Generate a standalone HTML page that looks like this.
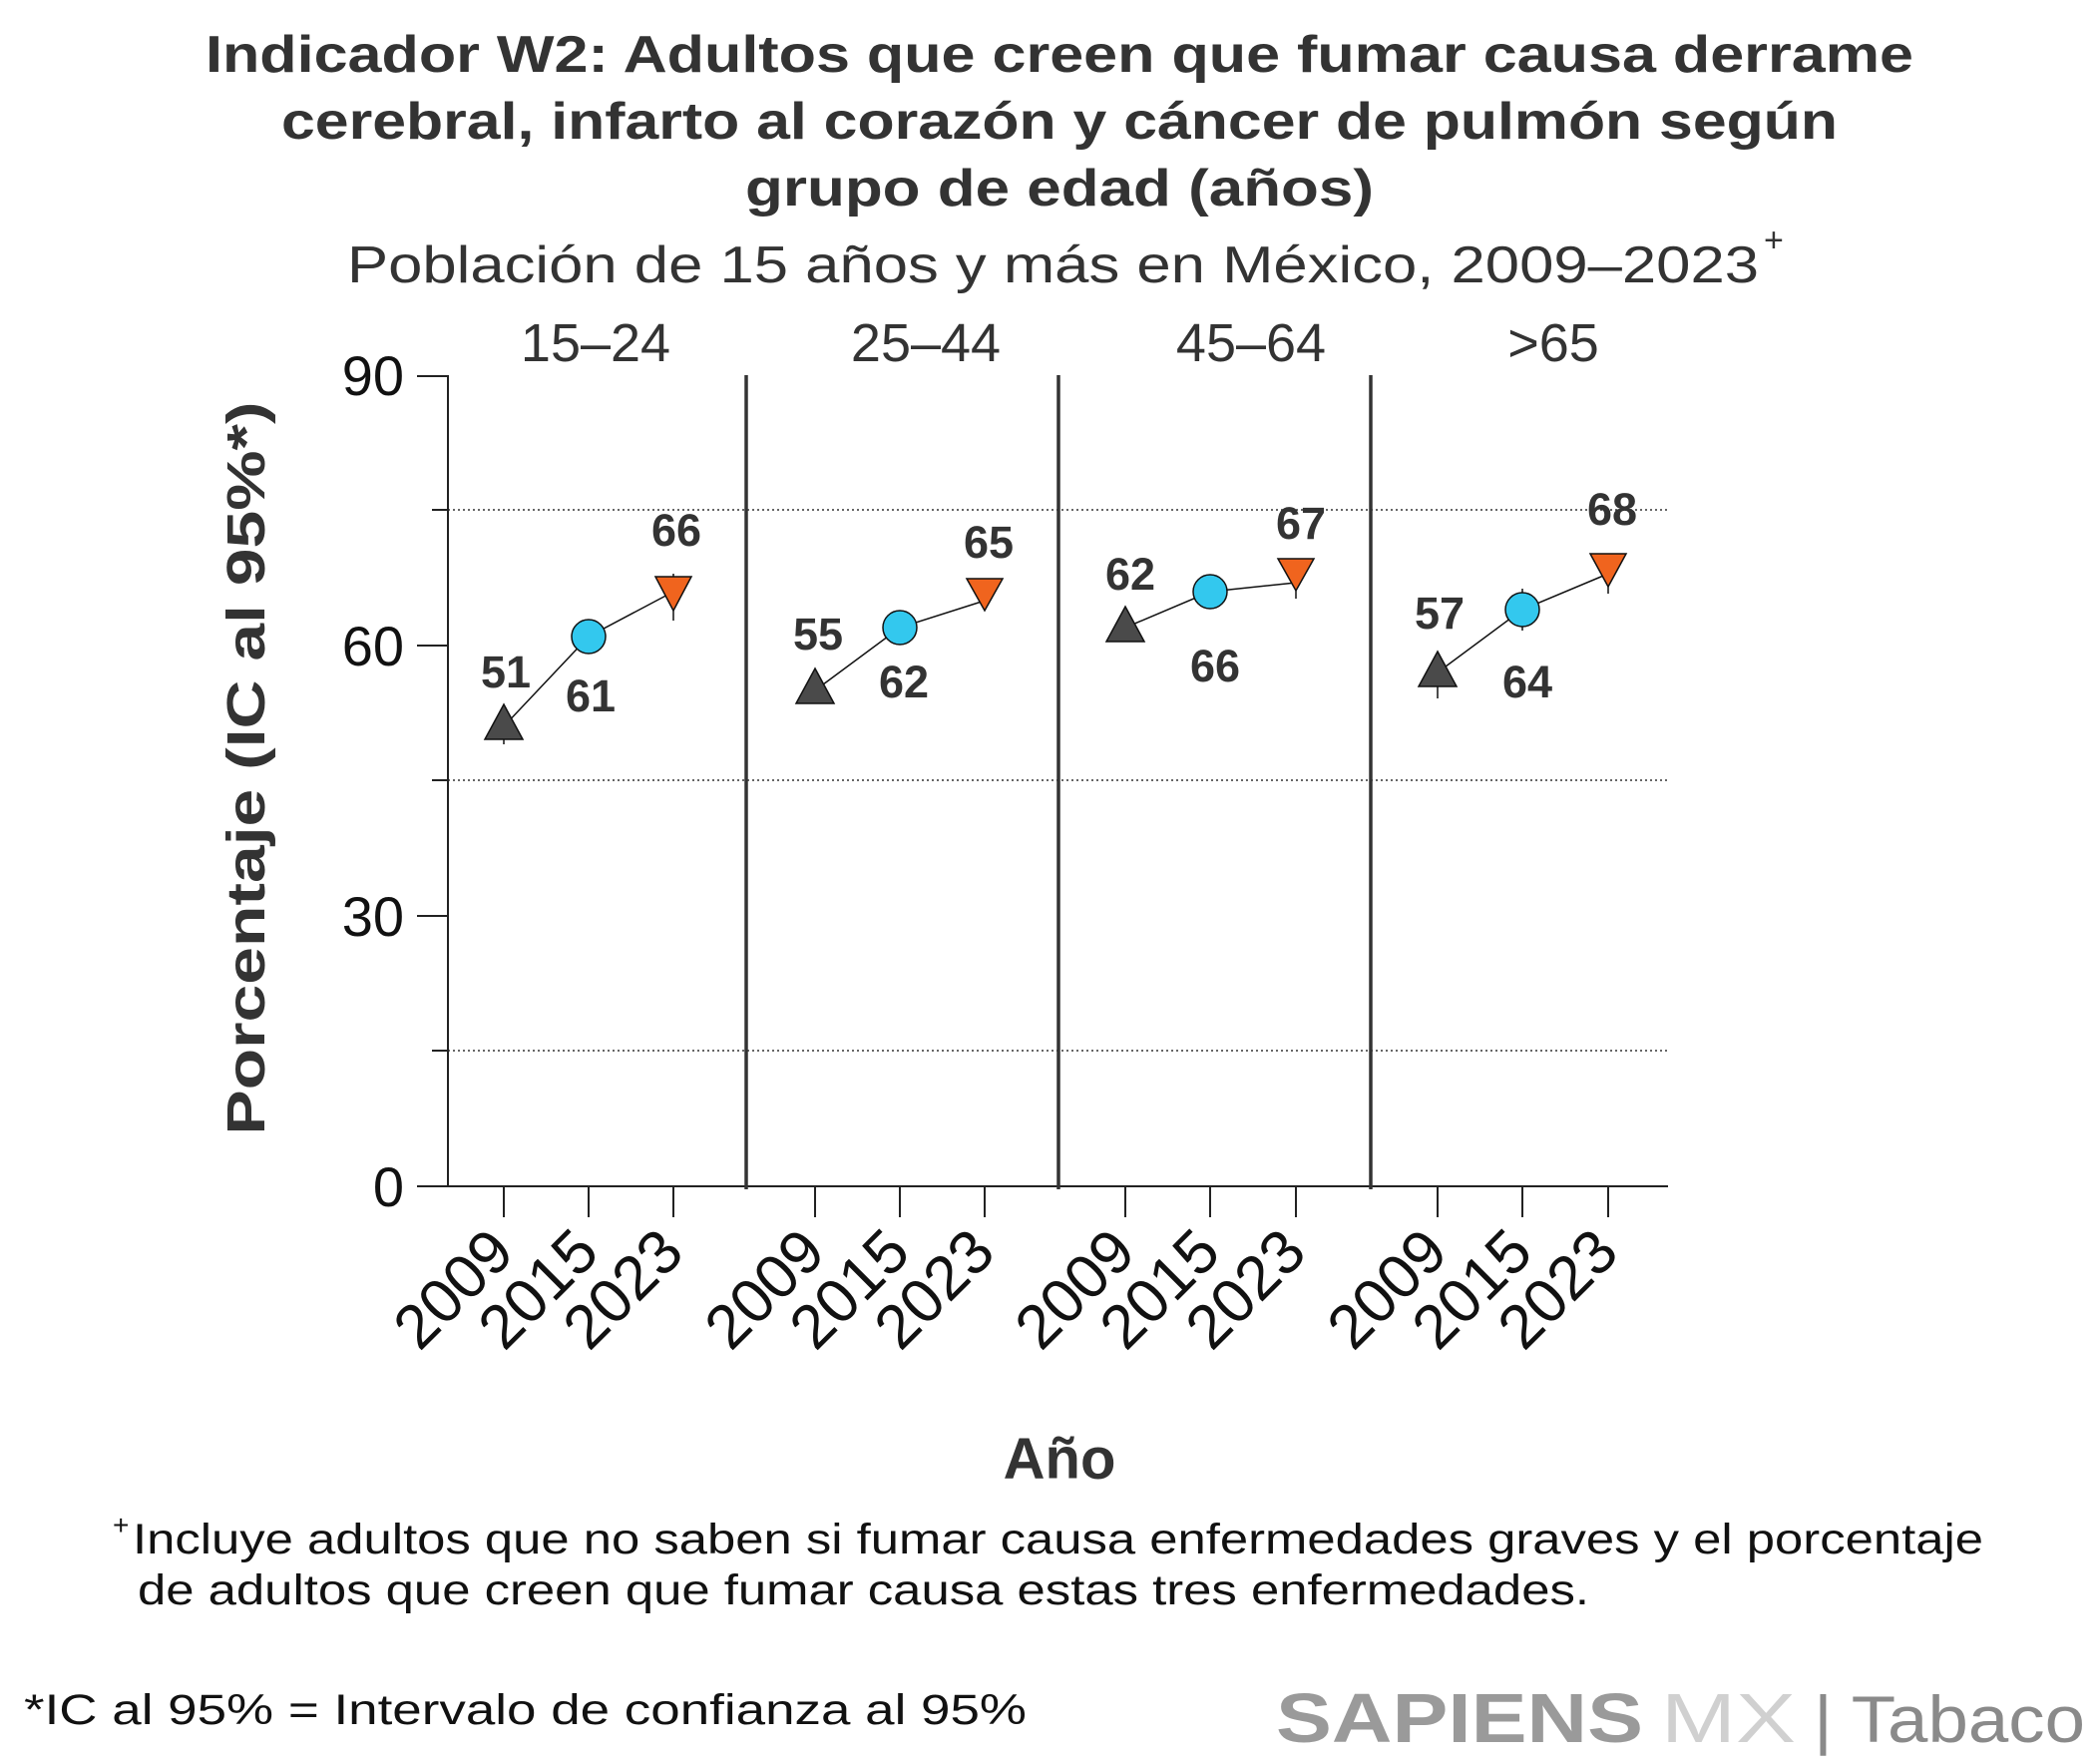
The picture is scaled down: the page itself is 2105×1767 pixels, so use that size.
<!DOCTYPE html>
<html><head><meta charset="utf-8"><style>
html,body{margin:0;padding:0;background:#fff;}
svg{display:block;}
text{font-family:"Liberation Sans",sans-serif;}
</style></head><body>
<svg width="2105" height="1767" viewBox="0 0 2105 1767" xmlns="http://www.w3.org/2000/svg">
<g fill="#333" font-weight="bold" font-size="52" text-anchor="middle">
<text x="1062" y="72" textLength="1712" lengthAdjust="spacingAndGlyphs">Indicador W2: Adultos que creen que fumar causa derrame</text>
<text x="1062" y="139" textLength="1560" lengthAdjust="spacingAndGlyphs">cerebral, infarto al corazón y cáncer de pulmón según</text>
<text x="1062" y="206" textLength="630" lengthAdjust="spacingAndGlyphs">grupo de edad (años)</text>
</g>
<text x="348" y="283" font-size="52" fill="#333" textLength="1415" lengthAdjust="spacingAndGlyphs">Población de 15 años y más en México, 2009–2023</text>
<text x="1768" y="252" font-size="34" fill="#333">+</text>
<g font-size="54" fill="#333" text-anchor="middle">
<text x="597" y="362">15–24</text>
<text x="928" y="362">25–44</text>
<text x="1254" y="362">45–64</text>
<text x="1557" y="362">&gt;65</text>
</g>
<g stroke="#333" stroke-width="1.5" stroke-dasharray="2,3">
<line x1="449" y1="511" x2="1672" y2="511"/>
<line x1="449" y1="782" x2="1672" y2="782"/>
<line x1="449" y1="1053" x2="1672" y2="1053"/>
</g>
<g stroke="#222" stroke-width="2" fill="none">
<line x1="449" y1="376" x2="449" y2="1190"/>
<line x1="449" y1="1189" x2="1672" y2="1189"/>
<line x1="418" y1="377" x2="449" y2="377"/>
<line x1="418" y1="647" x2="449" y2="647"/>
<line x1="418" y1="918" x2="449" y2="918"/>
<line x1="418" y1="1189" x2="449" y2="1189"/>
<line x1="433" y1="511" x2="449" y2="511"/>
<line x1="433" y1="782" x2="449" y2="782"/>
<line x1="433" y1="1053" x2="449" y2="1053"/>
</g>
<g stroke="#333" stroke-width="3.5">
<line x1="748" y1="376" x2="748" y2="1192"/>
<line x1="1061" y1="376" x2="1061" y2="1192"/>
<line x1="1374" y1="376" x2="1374" y2="1192"/>
</g>
<g stroke="#222" stroke-width="2">
<line x1="505" y1="1189" x2="505" y2="1220"/><line x1="590" y1="1189" x2="590" y2="1220"/><line x1="675" y1="1189" x2="675" y2="1220"/>
<line x1="817" y1="1189" x2="817" y2="1220"/><line x1="902" y1="1189" x2="902" y2="1220"/><line x1="987" y1="1189" x2="987" y2="1220"/>
<line x1="1128" y1="1189" x2="1128" y2="1220"/><line x1="1213" y1="1189" x2="1213" y2="1220"/><line x1="1299" y1="1189" x2="1299" y2="1220"/>
<line x1="1441" y1="1189" x2="1441" y2="1220"/><line x1="1526" y1="1189" x2="1526" y2="1220"/><line x1="1612" y1="1189" x2="1612" y2="1220"/>
</g>
<g font-size="56" fill="#111" text-anchor="end">
<text x="405" y="396">90</text>
<text x="405" y="667">60</text>
<text x="405" y="938">30</text>
<text x="405" y="1209">0</text>
</g>
<text transform="translate(265,770) rotate(-90)" font-size="54" font-weight="bold" fill="#333" text-anchor="middle" textLength="735" lengthAdjust="spacingAndGlyphs">Porcentaje (IC al 95%*)</text>
<g font-size="62" fill="#111" text-anchor="end">
<text transform="translate(518,1258) rotate(-45)">2009</text>
<text transform="translate(603,1258) rotate(-45)">2015</text>
<text transform="translate(688,1258) rotate(-45)">2023</text>
<text transform="translate(830,1258) rotate(-45)">2009</text>
<text transform="translate(915,1258) rotate(-45)">2015</text>
<text transform="translate(1000,1258) rotate(-45)">2023</text>
<text transform="translate(1141,1258) rotate(-45)">2009</text>
<text transform="translate(1226,1258) rotate(-45)">2015</text>
<text transform="translate(1312,1258) rotate(-45)">2023</text>
<text transform="translate(1454,1258) rotate(-45)">2009</text>
<text transform="translate(1539,1258) rotate(-45)">2015</text>
<text transform="translate(1625,1258) rotate(-45)">2023</text>
</g>
<text x="1062" y="1482" font-size="58" font-weight="bold" fill="#333" text-anchor="middle">Año</text>
<g stroke="#111" stroke-width="1.5" fill="none">
<polyline points="505,728 590,638 675,593"/>
<polyline points="817,692 902,629 987,602"/>
<polyline points="1128,629 1213,593 1299,584"/>
<polyline points="1441,674 1526,611 1612,575"/>
<line x1="505" y1="710" x2="505" y2="746"/>
<line x1="590" y1="622" x2="590" y2="654"/>
<line x1="675" y1="575" x2="675" y2="622"/>
<line x1="902" y1="620" x2="902" y2="640"/>
<line x1="987" y1="590" x2="987" y2="605"/>
<line x1="1213" y1="578" x2="1213" y2="608"/>
<line x1="1299" y1="572" x2="1299" y2="600"/>
<line x1="1441" y1="654" x2="1441" y2="700"/>
<line x1="1526" y1="590" x2="1526" y2="632"/>
<line x1="1612" y1="562" x2="1612" y2="595"/>
</g>
<g stroke="#111" stroke-width="1.5">
<polygon points="505,706 486,741 524,741" fill="#4a4a4a"/>
<polygon points="817,670 798,705 836,705" fill="#4a4a4a"/>
<polygon points="1128,608 1109,643 1147,643" fill="#4a4a4a"/>
<polygon points="1441,653 1422,688 1460,688" fill="#4a4a4a"/>
<circle cx="590" cy="638" r="17" fill="#33c8ee"/>
<circle cx="902" cy="629" r="17" fill="#33c8ee"/>
<circle cx="1213" cy="593" r="17" fill="#33c8ee"/>
<circle cx="1526" cy="611" r="17" fill="#33c8ee"/>
<polygon points="657,578 693,578 675,612" fill="#f0641e"/>
<polygon points="969,580 1005,580 987,612" fill="#f0641e"/>
<polygon points="1281,560 1317,560 1299,592" fill="#f0641e"/>
<polygon points="1594,555 1630,555 1612,588" fill="#f0641e"/>
</g>
<g font-size="45" font-weight="bold" fill="#333" text-anchor="middle">
<text x="507" y="689">51</text>
<text x="592" y="713">61</text>
<text x="678" y="547">66</text>
<text x="820" y="651">55</text>
<text x="906" y="699">62</text>
<text x="991" y="559">65</text>
<text x="1133" y="591">62</text>
<text x="1218" y="683">66</text>
<text x="1304" y="540">67</text>
<text x="1443" y="630">57</text>
<text x="1531" y="699">64</text>
<text x="1616" y="526">68</text>
</g>
<text x="113" y="1538" font-size="28" fill="#111">+</text>
<text x="133" y="1557" font-size="43" fill="#111" textLength="1855" lengthAdjust="spacingAndGlyphs">Incluye adultos que no saben si fumar causa enfermedades graves y el porcentaje</text>
<text x="138" y="1608" font-size="43" fill="#111" textLength="1455" lengthAdjust="spacingAndGlyphs">de adultos que creen que fumar causa estas tres enfermedades.</text>
<text x="24" y="1728" font-size="43" fill="#111" textLength="1005" lengthAdjust="spacingAndGlyphs">*IC al 95% = Intervalo de confianza al 95%</text>
<text x="1279" y="1746" font-size="70" font-weight="bold" fill="#9a9a9a" textLength="368" lengthAdjust="spacingAndGlyphs">SAPIENS</text>
<text x="1665" y="1746" font-size="70" fill="#d0d0d0" textLength="135" lengthAdjust="spacingAndGlyphs">MX</text>
<text x="1818" y="1746" font-size="66" fill="#8a8a8a" textLength="272" lengthAdjust="spacingAndGlyphs">| Tabaco</text>
</svg>
</body></html>
